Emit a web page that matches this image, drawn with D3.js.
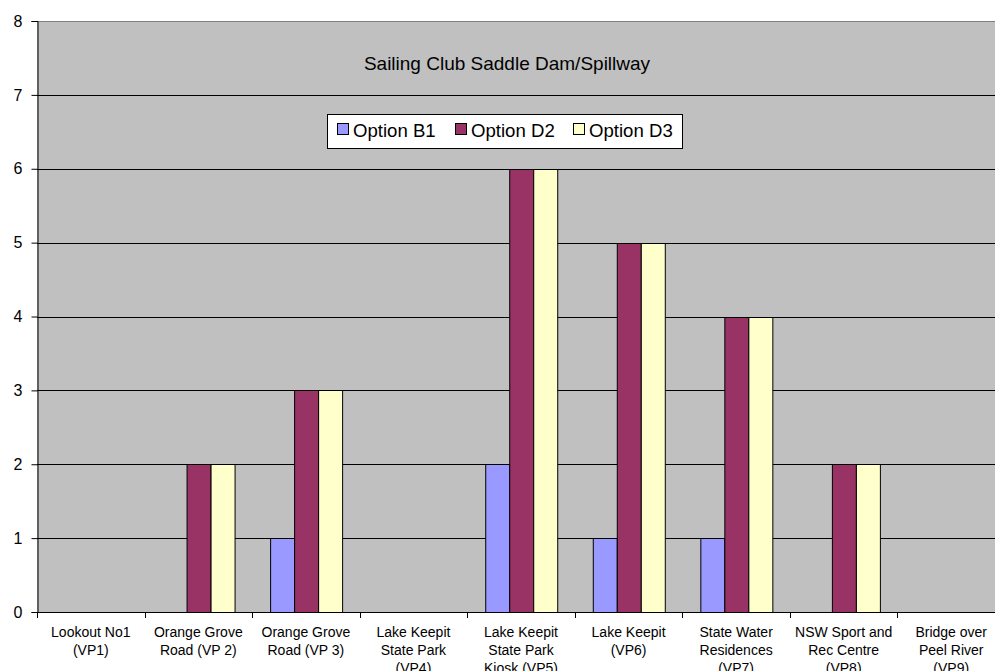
<!DOCTYPE html>
<html>
<head>
<meta charset="utf-8">
<script src="https://cdn.jsdelivr.net/npm/d3@7"></script>
<style>
  html, body { margin: 0; padding: 0; background: #fff; }
  svg { display: block; font-family: Arial, "Liberation Sans", sans-serif; }
</style>
</head>
<body>
<svg id="chart" width="995" height="671"></svg>
<script>
// Viewpoint categories (label lines) and visibility ratings per option
const categories = [
  ["Lookout No1", "(VP1)"],
  ["Orange Grove", "Road (VP 2)"],
  ["Orange Grove", "Road (VP 3)"],
  ["Lake Keepit", "State Park", "(VP4)"],
  ["Lake Keepit", "State Park", "Kiosk (VP5)"],
  ["Lake Keepit", "(VP6)"],
  ["State Water", "Residences", "(VP7)"],
  ["NSW Sport and", "Rec Centre", "(VP8)"],
  ["Bridge over", "Peel River", "(VP9)"]
];
const seriesNames = ["Option B1", "Option D2", "Option D3"];
const optionB1 = [0, 0, 1, 0, 2, 1, 1, 0, 0];
const optionD2 = [0, 2, 3, 0, 6, 5, 4, 2, 0];
const optionD3 = [0, 2, 3, 0, 6, 5, 4, 2, 0];
const yTicks = [0, 1, 2, 3, 4, 5, 6, 7, 8];
const chartTitle = "Sailing Club Saddle Dam/Spillway";

const colors = ["#9999FF", "#993366", "#FFFFCC"];
const seriesValues = [optionB1, optionD2, optionD3];

const svg = d3.select("#chart");
const plot = { left: 37, top: 21, right: 1005, bottom: 612 };

const x = d3.scaleBand()
  .domain(d3.range(categories.length))
  .range([plot.left, plot.right])
  .padding(0);

const xs = d3.scaleBand()
  .domain(d3.range(seriesNames.length))
  .range([0, x.bandwidth()])
  .paddingInner(0)
  .paddingOuter(0.75);

const y = d3.scaleLinear().domain([0, 8]).range([plot.bottom, plot.top]);

// Plot background
svg.append("rect")
  .attr("x", plot.left).attr("y", plot.top)
  .attr("width", plot.right - plot.left).attr("height", plot.bottom - plot.top)
  .attr("fill", "#C0C0C0");

// Top border
svg.append("line")
  .attr("x1", plot.left).attr("x2", plot.right)
  .attr("y1", plot.top + 0.5).attr("y2", plot.top + 0.5)
  .attr("stroke", "#808080");

// Horizontal gridlines
svg.append("g").selectAll("line")
  .data(yTicks.filter(d => d > 0 && d < 8))
  .join("line")
  .attr("x1", plot.left).attr("x2", plot.right)
  .attr("y1", d => Math.round(y(d)) + 0.5)
  .attr("y2", d => Math.round(y(d)) + 0.5)
  .attr("stroke", "#000");

// Bars
const groups = svg.append("g").selectAll("g")
  .data(categories.map((c, i) => i))
  .join("g")
  .attr("transform", i => `translate(${x(i)},0)`);

groups.selectAll("rect")
  .data(i => seriesValues.map((vals, s) => ({ s, v: vals[i] })).filter(d => d.v > 0))
  .join("rect")
  .attr("x", d => Math.round(xs(d.s)) + 0.5)
  .attr("y", d => Math.round(y(d.v)) + 0.5)
  .attr("width", Math.round(xs.bandwidth()))
  .attr("height", d => Math.round(y(0)) - Math.round(y(d.v)))
  .attr("fill", d => colors[d.s])
  .attr("stroke", "#000")
  .attr("stroke-width", 1);

// Y axis
const yAxis = svg.append("g")
  .attr("transform", `translate(${plot.left + 0.5},0)`)
  .call(d3.axisLeft(y).tickValues(yTicks).tickSize(6).tickPadding(9).tickFormat(d3.format("d")));
yAxis.select(".domain").attr("stroke", "#000");
yAxis.selectAll(".tick line").attr("stroke", "#000");
yAxis.selectAll("text").attr("font-size", 16).attr("fill", "#000")
  .attr("font-family", "Arial, 'Liberation Sans', sans-serif");

// X axis line and category boundary ticks
const xAxis = svg.append("g");
xAxis.append("line")
  .attr("x1", plot.left).attr("x2", plot.right)
  .attr("y1", plot.bottom + 0.5).attr("y2", plot.bottom + 0.5)
  .attr("stroke", "#000");
xAxis.selectAll(".bt")
  .data(d3.range(categories.length + 1))
  .join("line")
  .attr("class", "bt")
  .attr("x1", i => Math.round(plot.left + i * x.step()) + 0.5)
  .attr("x2", i => Math.round(plot.left + i * x.step()) + 0.5)
  .attr("y1", plot.bottom)
  .attr("y2", plot.bottom + 6)
  .attr("stroke", "#000");

// Category labels (third lines run past the bottom edge)
const labels = xAxis.selectAll(".cat")
  .data(categories)
  .join("text")
  .attr("class", "cat")
  .attr("text-anchor", "middle")
  .attr("font-size", 14)
  .attr("fill", "#000");
labels.selectAll("tspan")
  .data((lines, i) => lines.map(t => ({ t, i })))
  .join("tspan")
  .attr("x", d => x(d.i) + x.bandwidth() / 2)
  .attr("y", (d, k) => 637 + k * 18)
  .text(d => d.t);

// Title
svg.append("text")
  .attr("x", 507).attr("y", 70)
  .attr("text-anchor", "middle")
  .attr("font-size", 19)
  .attr("fill", "#000")
  .text(chartTitle);

// Legend
const legend = svg.append("g");
legend.append("rect")
  .attr("x", 327.5).attr("y", 114.5)
  .attr("width", 355).attr("height", 34)
  .attr("fill", "#fff")
  .attr("stroke", "#000");
const legendX = [337, 455, 573];
const items = legend.selectAll(".item")
  .data(seriesNames)
  .join("g")
  .attr("class", "item")
  .attr("transform", (d, i) => `translate(${legendX[i]},0)`);
items.append("rect")
  .attr("x", 0.5).attr("y", 123.5)
  .attr("width", 11).attr("height", 11)
  .attr("fill", (d, i) => colors[i])
  .attr("stroke", "#000");
items.append("text")
  .attr("x", 16).attr("y", 136.5)
  .attr("font-size", 18.6)
  .attr("fill", "#000")
  .text(d => d);
</script>
</body>
</html>
